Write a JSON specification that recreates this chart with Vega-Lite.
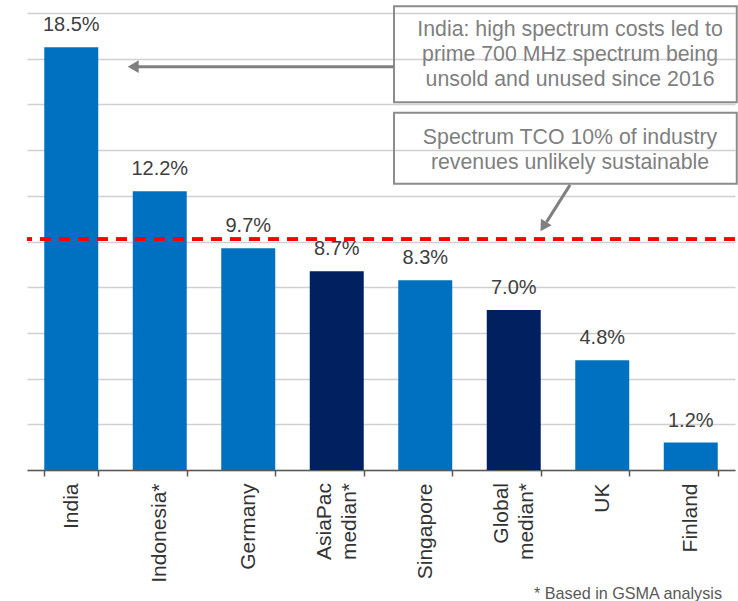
{
  "$schema": "https://vega.github.io/schema/vega-lite/v6.json",
  "autosize": {"type": "none"},
  "padding": {"left": 27, "top": 13, "right": 3, "bottom": 131},
  "width": 708,
  "height": 457,
  "background": "white",
  "config": {
    "view": {"stroke": null},
    "font": "Liberation Sans",
    "text": {"font": "Liberation Sans"}
  },
  "datasets": {
    "bars": [
      {"country": "India", "value": 18.5, "label": "18.5%", "group": "country"},
      {"country": "Indonesia*", "value": 12.2, "label": "12.2%", "group": "country"},
      {"country": "Germany", "value": 9.7, "label": "9.7%", "group": "country"},
      {"country": "AsiaPac\nmedian*", "value": 8.7, "label": "8.7%", "group": "median"},
      {"country": "Singapore", "value": 8.3, "label": "8.3%", "group": "country"},
      {"country": "Global\nmedian*", "value": 7.0, "label": "7.0%", "group": "median"},
      {"country": "UK", "value": 4.8, "label": "4.8%", "group": "country"},
      {"country": "Finland", "value": 1.2, "label": "1.2%", "group": "country"}
    ],
    "boxes": [
      {"x": 4.147, "x2": 8.02, "y": 20.29, "y2": 16.09},
      {"x": 4.147, "x2": 8.02, "y": 15.64, "y2": 12.53}
    ],
    "notes": [
      {"x": 6.136, "y": 19.27, "text": "India: high spectrum costs led to\nprime 700 MHz spectrum being\nunsold and unused since 2016"},
      {"x": 6.136, "y": 14.54, "text": "Spectrum TCO 10% of industry\nrevenues unlikely sustainable"}
    ],
    "arrows": [
      {"x": 4.147, "x2": 1.25, "y": 17.65, "y2": 17.65},
      {"x": 6.136, "x2": 5.87, "y": 12.48, "y2": 10.85}
    ],
    "heads": [
      {"x": 1.2, "y": 17.65, "shape": "triangle-left", "angle": 0},
      {"x": 5.835, "y": 10.65, "shape": "triangle-down", "angle": 32}
    ],
    "foot": [
      {"x": 7.853, "y": -5.43, "text": "* Based in GSMA analysis"}
    ]
  },
  "resolve": {"scale": {"x": "independent"}},
  "layer": [
    {
      "data": {"name": "bars"},
      "layer": [
        {
          "mark": {"type": "bar"},
          "encoding": {
            "x": {
              "field": "country", "type": "nominal", "sort": null,
              "scale": {"paddingInner": 0.39, "paddingOuter": 0.195},
              "axis": {
                "title": null, "labelAngle": -90, "labelAlign": "right", "labelBaseline": "middle",
                "labelExpr": "indexof(datum.label, 'median') >= 0 ? '' : datum.label",
                "labelFontSize": 21, "labelColor": "#333333", "labelFont": "Liberation Sans",
                "labelPadding": 7,
                "domainColor": "#595959", "domainWidth": 1.5,
                "ticks": true, "tickBand": "extent", "tickSize": 6, "tickColor": "#595959", "tickWidth": 1.5,
                "grid": false
              }
            },
            "y": {
              "field": "value", "type": "quantitative",
              "scale": {"domain": [0, 20], "nice": false},
              "axis": {
                "title": null, "labels": false, "ticks": false, "domain": false,
                "values": [0, 2, 4, 6, 8, 10, 12, 14, 16, 18, 20],
                "gridColor": "#D0D0D0", "gridWidth": 1.5
              }
            },
            "color": {
              "field": "group", "type": "nominal",
              "scale": {"domain": ["country", "median"], "range": ["#0070C0", "#002060"]},
              "legend": null
            }
          }
        },
        {
          "mark": {"type": "text", "baseline": "alphabetic", "dy": -16, "fontSize": 20, "color": "#404040"},
          "encoding": {
            "x": {"field": "country", "type": "nominal", "sort": null},
            "y": {"field": "value", "type": "quantitative"},
            "text": {"field": "label"}
          }
        },
        {
          "transform": [{"filter": "indexof(datum.country, 'median') >= 0"}],
          "mark": {"type": "text", "angle": 270, "align": "right", "baseline": "middle", "dx": -13, "dy": -12, "fontSize": 21, "color": "#333333", "lineBreak": "\n", "lineHeight": 25, "clip": false},
          "encoding": {
            "x": {"field": "country", "type": "nominal", "sort": null},
            "y": {"datum": 0},
            "text": {"field": "country"}
          }
        },
        {
          "mark": {"type": "rule", "color": "#FF0000", "strokeWidth": 3, "strokeDash": [11, 8]},
          "encoding": {"y": {"datum": 10.1}}
        }
      ]
    },
    {
      "layer": [
        {
          "data": {"name": "boxes"},
          "mark": {"type": "rect", "fill": null, "fillOpacity": 0, "stroke": "#8C8C8C", "strokeWidth": 2, "clip": false},
          "encoding": {
            "x": {"field": "x", "type": "quantitative", "scale": {"domain": [0, 8], "nice": false, "zero": false}, "axis": null},
            "x2": {"field": "x2"},
            "y": {"field": "y", "type": "quantitative"},
            "y2": {"field": "y2"}
          }
        },
        {
          "data": {"name": "notes"},
          "mark": {"type": "text", "align": "center", "baseline": "middle", "fontSize": 21.3, "color": "#7F7F7F", "lineBreak": "\n", "lineHeight": 25, "clip": false},
          "encoding": {
            "x": {"field": "x", "type": "quantitative", "scale": {"domain": [0, 8], "nice": false, "zero": false}, "axis": null},
            "y": {"field": "y", "type": "quantitative"},
            "text": {"field": "text"}
          }
        },
        {
          "data": {"name": "arrows"},
          "mark": {"type": "rule", "color": "#808080", "strokeWidth": 3},
          "encoding": {
            "x": {"field": "x", "type": "quantitative", "scale": {"domain": [0, 8], "nice": false, "zero": false}, "axis": null},
            "x2": {"field": "x2"},
            "y": {"field": "y", "type": "quantitative"},
            "y2": {"field": "y2"}
          }
        },
        {
          "data": {"name": "heads"},
          "mark": {"type": "point", "filled": true, "color": "#808080", "opacity": 1, "size": 160},
          "encoding": {
            "x": {"field": "x", "type": "quantitative", "scale": {"domain": [0, 8], "nice": false, "zero": false}, "axis": null},
            "y": {"field": "y", "type": "quantitative"},
            "shape": {"field": "shape", "type": "nominal", "scale": null},
            "angle": {"field": "angle", "type": "quantitative", "scale": null}
          }
        },
        {
          "data": {"name": "foot"},
          "mark": {"type": "text", "align": "right", "baseline": "middle", "fontSize": 16.2, "color": "#595959", "clip": false},
          "encoding": {
            "x": {"field": "x", "type": "quantitative", "scale": {"domain": [0, 8], "nice": false, "zero": false}, "axis": null},
            "y": {"field": "y", "type": "quantitative"},
            "text": {"field": "text"}
          }
        }
      ]
    }
  ]
}
